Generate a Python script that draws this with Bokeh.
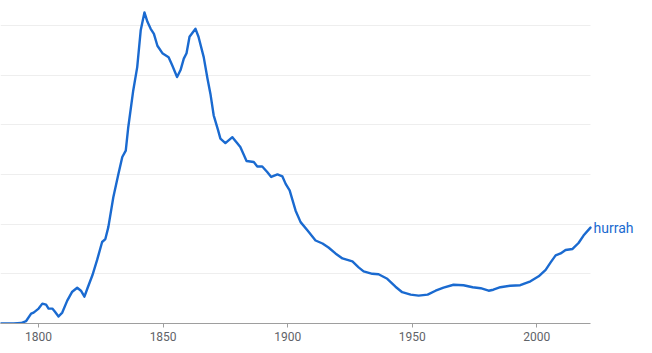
from bokeh.plotting import figure
from bokeh.models import ColumnDataSource, Range1d, FixedTicker
from bokeh.core.properties import value
from bokeh.embed import file_html
from bokeh.resources import INLINE

years = [1780, 1790, 1793, 1795, 1797, 1798, 1800, 1801.5, 1803, 1804, 1805.5, 1806.5, 1808, 1809.5,
         1811.5, 1813.5, 1815.5, 1817, 1818.4, 1819.7, 1821.6, 1823.5, 1825.5, 1826.8, 1828,
         1830, 1832, 1833.6, 1835, 1836, 1838, 1839.6, 1841, 1842.5, 1843.7, 1845, 1846.3,
         1847.7, 1849.7, 1852.2, 1853.6, 1855.6, 1857, 1858.3, 1859.4, 1860.6, 1863, 1864.2,
         1866.3, 1867.8, 1869, 1870.3, 1872, 1873, 1875, 1877.8, 1879.7, 1881, 1883.5, 1886.4,
         1887.8, 1889.8, 1891.8, 1893.4, 1895.9, 1897.9, 1899.2, 1900.8, 1903.2, 1905.2, 1908,
         1911.2, 1914, 1916.4, 1919.2, 1922, 1926, 1928.5, 1930.5, 1934, 1936.5, 1940, 1943.3,
         1946, 1949.4, 1952.6, 1956.2, 1959.4, 1962.6, 1966.6, 1970.6, 1974.3, 1977.5, 1980.7,
         1982.6, 1985.4, 1989.4, 1993.4, 1997.5, 2000.8, 2003.6, 2005.6, 2007.6, 2009.6, 2011.6,
         2014.4, 2016.8, 2018.8, 2021.6]
values = [0.0, 0.0, 0.01, 0.05, 0.2, 0.22, 0.3, 0.4, 0.38, 0.3, 0.3, 0.24, 0.14, 0.22,
          0.46, 0.64, 0.72, 0.66, 0.54, 0.72, 0.97, 1.28, 1.64, 1.7, 1.94,
          2.54, 3.0, 3.35, 3.48, 3.95, 4.69, 5.16, 5.9, 6.26, 6.07, 5.93, 5.83,
          5.59, 5.44, 5.36, 5.2, 4.96, 5.1, 5.33, 5.44, 5.77, 5.93, 5.77,
          5.36, 4.93, 4.62, 4.19, 3.9, 3.72, 3.63, 3.75, 3.63, 3.55, 3.27, 3.25,
          3.16, 3.16, 3.05, 2.95, 3.0, 2.96, 2.81, 2.68, 2.27, 2.04, 1.87,
          1.67, 1.61, 1.53, 1.41, 1.31, 1.25, 1.13, 1.05, 1.0, 0.99, 0.9, 0.74,
          0.63, 0.58, 0.56, 0.58, 0.66, 0.72, 0.78, 0.77, 0.73, 0.71, 0.66,
          0.68, 0.73, 0.76, 0.77, 0.85, 0.95, 1.08, 1.23, 1.37, 1.41, 1.48,
          1.5, 1.62, 1.77, 1.93]
x_ticks = [1800, 1850, 1900, 1950, 2000]
y_grid = [0, 1, 2, 3, 4, 5, 6]
series_name = "hurrah"

x_start, x_end = 1784.7, 2046.5
y_start, y_end = 0, 6.5

src = ColumnDataSource(dict(x=years, y=values))

p = figure(width=652, height=353, output_backend="svg", toolbar_location=None,
           x_range=Range1d(x_start, x_end), y_range=Range1d(y_start, y_end),
           y_axis_location=None,
           min_border_left=0, min_border_top=0, min_border_right=0, min_border_bottom=30)
p.outline_line_color = None
p.background_fill_color = "white"
p.border_fill_color = "white"

p.xgrid.grid_line_color = None
p.ygrid.ticker = FixedTicker(ticks=y_grid)
p.ygrid.grid_line_color = "#eeeeee"
p.ygrid.grid_line_width = 1

# white panel to the right of the data end, hides grid where the label sits
p.quad(left=[years[-1]], right=[x_end], bottom=[y_start], top=[y_end],
       fill_color="white", line_color=None)

p.line("x", "y", source=src, line_color="#1a6ad0", line_width=2.4,
       line_join="round", line_cap="round")

p.text(x=[years[-1]], y=[values[-1]], text=[series_name], x_offset=3, y_offset=0,
       text_baseline="alphabetic", text_align="left", text_font=value("Roboto"),
       text_font_size="14px", text_color="#1a6ad0")

ax = p.xaxis[0]
ax.ticker = FixedTicker(ticks=x_ticks)
ax.bounds = (x_start, years[-1])
ax.axis_line_color = "#9e9e9e"
ax.major_tick_line_color = "#9e9e9e"
ax.major_tick_out = 4
ax.major_tick_in = 0
ax.minor_tick_line_color = None
ax.major_label_text_font = "Roboto"
ax.major_label_text_font_size = "12px"
ax.major_label_text_color = "#5f6368"
ax.major_label_standoff = 4

open("out.html", "w").write(file_html(p, INLINE))
